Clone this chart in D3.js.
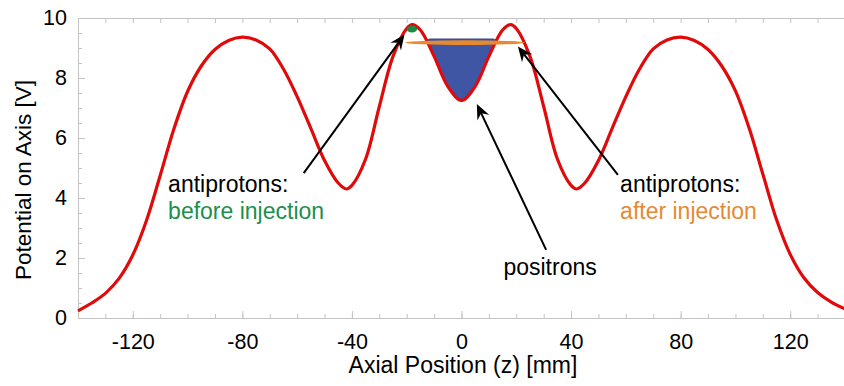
<!DOCTYPE html>
<html>
<head>
<meta charset="utf-8">
<script src="https://cdn.jsdelivr.net/npm/d3@7"></script>
<style>
  html, body { margin: 0; padding: 0; background: #fff; }
  svg { display: block; font-family: "Liberation Sans", Arial, sans-serif; }
</style>
</head>
<body>
<svg id="chart" width="844" height="386"></svg>
<script>
// Axial potential along the trap axis
const axialPosition = [-140, -135, -130, -125, -120, -115, -110, -105, -100, -95, -90, -85, -80, -75, -70, -65, -60, -55, -50, -45, -42, -40, -35, -30, -25, -20, -18, -15, -10, -5, 0,
  5, 10, 15, 18, 20, 25, 30, 35, 40, 42, 45, 50, 55, 60, 65, 70, 75, 80, 85, 90, 95, 100, 105, 110, 115, 120, 125, 130, 135, 140];
const potential = [0.24, 0.5, 0.82, 1.32, 2.1, 3.25, 4.75, 6.3, 7.55, 8.4, 8.95, 9.25, 9.36, 9.27, 8.97, 8.3, 7.38, 6.32, 5.25, 4.5, 4.3, 4.42, 5.3, 7.05, 8.72, 9.65, 9.78, 9.6, 8.72, 7.72, 7.25,
  7.72, 8.72, 9.6, 9.78, 9.65, 8.72, 7.05, 5.3, 4.42, 4.3, 4.5, 5.25, 6.32, 7.38, 8.3, 8.97, 9.27, 9.36, 9.25, 8.95, 8.4, 7.57, 6.33, 4.8, 3.28, 2.12, 1.34, 0.85, 0.53, 0.3];

// Axis ticks
const xMajorTicks = [-120, -80, -40, 0, 40, 80, 120];
const xMinorTicks = [-140, -130, -120, -110, -100, -90, -80, -70, -60, -50, -40, -30, -20, -10, 0, 10, 20, 30, 40, 50, 60, 70, 80, 90, 100, 110, 120, 130, 140];
const yMajorTicks = [0, 2, 4, 6, 8, 10];
const yMinorTicks = [0, 0.5, 1, 1.5, 2, 2.5, 3, 3.5, 4, 4.5, 5, 5.5, 6, 6.5, 7, 7.5, 8, 8.5, 9, 9.5, 10];

// Particle clouds: positron fill level, antiproton extent after injection, antiproton spot before injection
const positronLevel = 9.3;
const positronWell = [-16, 16];
const antiprotonAfter = { z: [-20.6, 23.2], v: 9.18 };
const antiprotonBefore = { z: -18.1, v: 9.63 };

// Annotations (data coordinates)
const labels = [
  { z: -107.1, v: 4.2, lines: ["antiprotons:", "before injection"], colors: ["#000", "#1b8f4c"] },
  { z: 57.9, v: 4.2, lines: ["antiprotons:", "after injection"], colors: ["#000", "#e58a34"] },
  { z: 15.3, v: 1.43, lines: ["positrons"], colors: ["#000"] }
];
const arrows = [
  { from: [-57.6, 4.83], to: [-20.8, 9.45] },
  { from: [57.1, 4.77], to: [20.6, 9.05] },
  { from: [30.9, 2.27], to: [5.6, 7.13] }
];

const svg = d3.select("#chart");
const x = d3.scaleLinear().domain([-140, 140]).range([78, 845]);
const y = d3.scaleLinear().domain([0, 10]).range([318, 18]);
const frameColor = "#c4c4c4";
const plain = d => String(d);

function styleAxis(g) {
  g.selectAll("path.domain").attr("stroke", frameColor);
  g.selectAll(".tick line").attr("stroke", frameColor);
  g.selectAll(".tick text").attr("fill", "#000").attr("font-family", "Liberation Sans, Arial, sans-serif");
}

// minor ticks
svg.append("g").attr("transform", `translate(0,${y(0)})`)
  .call(d3.axisBottom(x).tickValues(xMinorTicks).tickSizeInner(-4).tickSizeOuter(0).tickFormat(""))
  .call(styleAxis);
svg.append("g").attr("transform", `translate(0,${y(10)})`)
  .call(d3.axisTop(x).tickValues(xMinorTicks).tickSizeInner(-5).tickSizeOuter(0).tickFormat(""))
  .call(styleAxis);
svg.append("g").attr("transform", `translate(${x(-140)},0)`)
  .call(d3.axisLeft(y).tickValues(yMinorTicks).tickSizeInner(-4).tickSizeOuter(0).tickFormat(""))
  .call(styleAxis);

// major ticks with labels
svg.append("g").attr("transform", `translate(0,${y(0)})`)
  .call(d3.axisBottom(x).tickValues(xMajorTicks).tickSizeInner(-7).tickSizeOuter(0).tickPadding(16).tickFormat(plain))
  .call(styleAxis)
  .call(g => g.selectAll(".tick text").attr("font-size", 21.5));
svg.append("g").attr("transform", `translate(${x(-140)},0)`)
  .call(d3.axisLeft(y).tickValues(yMajorTicks).tickSizeInner(-7).tickSizeOuter(0).tickPadding(11).tickFormat(plain))
  .call(styleAxis)
  .call(g => g.selectAll(".tick text").attr("font-size", 21.5));

// axis titles
svg.append("text").attr("x", 463).attr("y", 373).attr("text-anchor", "middle")
  .attr("font-size", 23).text("Axial Position (z) [mm]");
svg.append("text").attr("transform", `translate(31,180) rotate(-90)`).attr("text-anchor", "middle")
  .attr("font-size", 22.5).text("Potential on Axis [V]");

const curve = d3.curveCatmullRom.alpha(0.5);
const pts = axialPosition.map((z, i) => [z, potential[i]]);

// positron cloud filling the central well up to its level
svg.append("clipPath").attr("id", "wellClip").append("rect")
  .attr("x", x(positronWell[0])).attr("width", x(positronWell[1]) - x(positronWell[0]))
  .attr("y", y(positronLevel)).attr("height", y(0) - y(positronLevel));
svg.append("path")
  .datum(pts)
  .attr("clip-path", "url(#wellClip)")
  .attr("fill", "#3f56a5")
  .attr("d", d3.area().x(d => x(d[0])).y0(y(positronLevel)).y1(d => y(d[1])).curve(curve));
svg.append("line")
  .attr("x1", x(-11.8)).attr("x2", x(11.8)).attr("y1", y(positronLevel)).attr("y2", y(positronLevel))
  .attr("stroke", "#34488e").attr("stroke-width", 1);

// potential curve
svg.append("path")
  .datum(pts)
  .attr("fill", "none")
  .attr("stroke", "#e10a0a")
  .attr("stroke-width", 3.2)
  .attr("d", d3.line().x(d => x(d[0])).y(d => y(d[1])).curve(curve));

// antiprotons after injection: thin elongated cloud
const aMid = (antiprotonAfter.z[0] + antiprotonAfter.z[1]) / 2;
svg.append("ellipse")
  .attr("cx", x(aMid)).attr("cy", y(antiprotonAfter.v))
  .attr("rx", (x(antiprotonAfter.z[1]) - x(antiprotonAfter.z[0])) / 2).attr("ry", 2.4)
  .attr("fill", "#e8892f");

// antiprotons before injection: small spot on the barrier
svg.append("ellipse")
  .attr("cx", x(antiprotonBefore.z)).attr("cy", y(antiprotonBefore.v))
  .attr("rx", 5.2).attr("ry", 3.4)
  .attr("fill", "#1a8a47");

// arrows
function arrowHead(tip, from) {
  const ang = Math.atan2(tip[1] - from[1], tip[0] - from[0]);
  const L = 15, W = 6.5, N = 10;
  const c = Math.cos(ang), s = Math.sin(ang);
  const p = (a, b) => [tip[0] - a * c + b * s, tip[1] - a * s - b * c];
  return [tip, p(L, W), p(N, 0), p(L, -W)];
}
arrows.forEach(a => {
  const f = [x(a.from[0]), y(a.from[1])], t = [x(a.to[0]), y(a.to[1])];
  const head = arrowHead(t, f);
  const ang = Math.atan2(t[1] - f[1], t[0] - f[0]);
  svg.append("line")
    .attr("x1", f[0]).attr("y1", f[1])
    .attr("x2", t[0] - 10 * Math.cos(ang)).attr("y2", t[1] - 10 * Math.sin(ang))
    .attr("stroke", "#000").attr("stroke-width", 2);
  svg.append("path").attr("d", "M" + head.join("L") + "Z").attr("fill", "#000");
});

// labels
labels.forEach(l => {
  const t = svg.append("text").attr("font-size", 23);
  l.lines.forEach((line, i) => {
    t.append("tspan").attr("x", x(l.z)).attr("y", y(l.v) + i * 27)
      .attr("fill", l.colors[i]).text(line);
  });
});
</script>
</body>
</html>
